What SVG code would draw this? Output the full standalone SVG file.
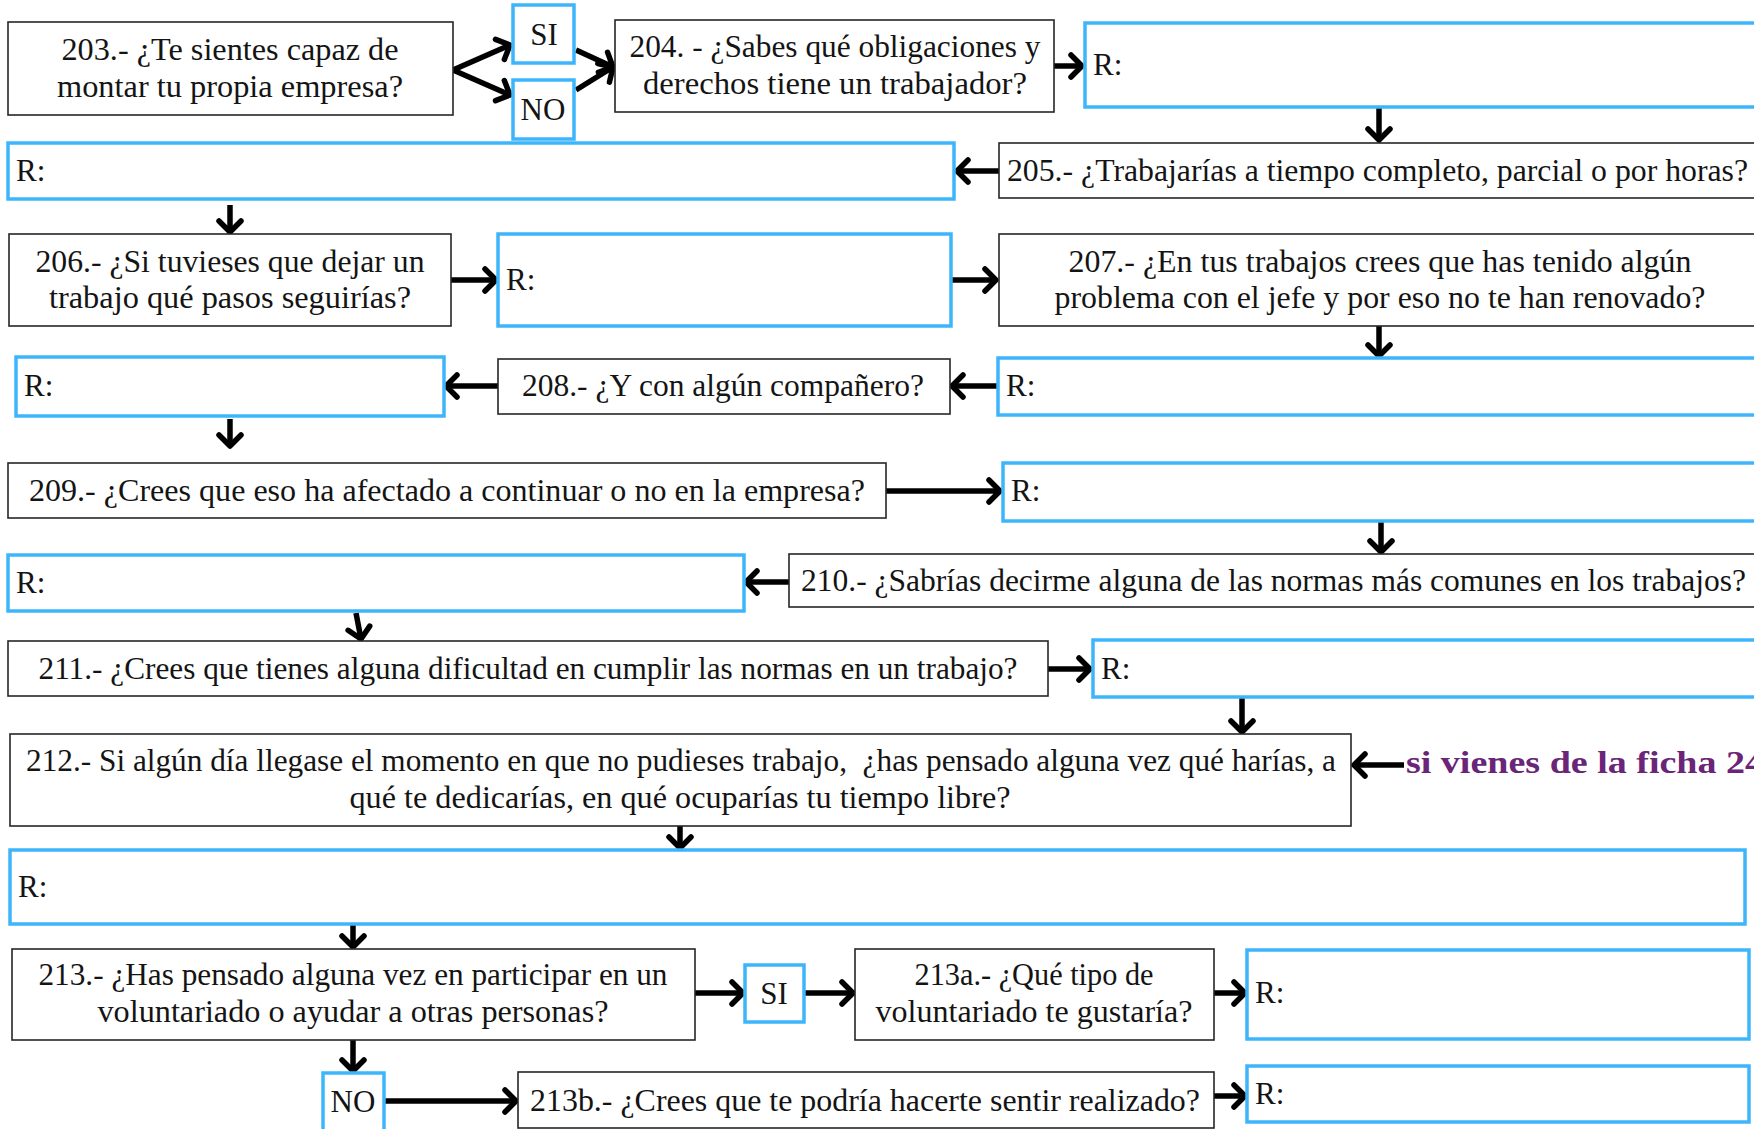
<svg xmlns="http://www.w3.org/2000/svg" width="1754" height="1129" viewBox="0 0 1754 1129">
<style>
.q{fill:#fff;stroke:#262626;stroke-width:1.6}
.a{fill:#fff;stroke:#3db5fb;stroke-width:3.5}
.t{font-family:"Liberation Serif","Times New Roman",serif;font-size:31px;fill:#141414}
.c{text-anchor:middle}
.p{font-family:"Liberation Serif","Times New Roman",serif;font-size:32px;font-weight:bold;fill:#6a2478}
.ar{fill:none;stroke:#000;stroke-width:5.5;marker-end:url(#h)}
</style>
<defs>
<marker id="h" markerUnits="userSpaceOnUse" markerWidth="26" markerHeight="30" viewBox="0 0 26 30" refX="20" refY="15" orient="auto">
<path d="M9,4 L20,15 L9,26" fill="none" stroke="#000" stroke-width="5.5" stroke-linecap="round" stroke-linejoin="round"/>
</marker>
</defs>
<rect width="1754" height="1129" fill="#fff"/>

<g id="connectors">
<path class="ar" d="M453,70 L510,45"/>
<path class="ar" d="M453,70 L510,95"/>
<path class="ar" d="M576,50 L613,67"/>
<path class="ar" d="M576,90 L613,67"/>
<path class="ar" d="M1054,66 L1082,66"/>
<path class="ar" d="M1379,107 L1379,140"/>
<path class="ar" d="M999,171 L957,171"/>
<path class="ar" d="M230,205 L230,232"/>
<path class="ar" d="M451,280 L496,280"/>
<path class="ar" d="M951,280 L996,280"/>
<path class="ar" d="M1379,326 L1379,356"/>
<path class="ar" d="M998,386 L952,386"/>
<path class="ar" d="M498,386 L446,386"/>
<path class="ar" d="M230,419 L230,446"/>
<path class="ar" d="M886,491 L1000,491"/>
<path class="ar" d="M1381,521 L1381,552"/>
<path class="ar" d="M789,582 L746,582"/>
<path class="ar" d="M356,613 L361,639"/>
<path class="ar" d="M1048,669 L1090,669"/>
<path class="ar" d="M1242,697 L1242,732"/>
<path class="ar" d="M1404,765 L1354,765"/>
<path class="ar" d="M680,826 L680,848"/>
<path class="ar" d="M353,924 L353,947"/>
<path class="ar" d="M695,993 L743,993"/>
<path class="ar" d="M804,993 L853,993"/>
<path class="ar" d="M1214,993 L1245,993"/>
<path class="ar" d="M353,1040 L353,1071"/>
<path class="ar" d="M384,1101 L516,1101"/>
<path class="ar" d="M1214,1096 L1245,1096"/>
</g>

<g id="q203"><rect class="q" x="8" y="22" width="445" height="93"/>
<text class="t c" x="230" y="60" textLength="337" lengthAdjust="spacingAndGlyphs">203.- ¿Te sientes capaz de</text>
<text class="t c" x="230" y="97" textLength="346" lengthAdjust="spacingAndGlyphs">montar tu propia empresa?</text></g>
<g id="si203"><rect class="a" x="513" y="5" width="61" height="58"/><text class="t c" x="544" y="45">SI</text></g>
<g id="no203"><rect class="a" x="513" y="80" width="61" height="59"/><text class="t c" x="543" y="120">NO</text></g>
<g id="q204"><rect class="q" x="615" y="20" width="439" height="92"/>
<text class="t c" x="835" y="57" textLength="411" lengthAdjust="spacingAndGlyphs">204. - ¿Sabes qué obligaciones y</text>
<text class="t c" x="835" y="94" textLength="384" lengthAdjust="spacingAndGlyphs">derechos tiene un trabajador?</text></g>
<g id="r204"><rect class="a" x="1085" y="23" width="690" height="84"/><text class="t" x="1093" y="75">R:</text></g>

<g id="r205"><rect class="a" x="8" y="143" width="946" height="56"/><text class="t" x="16" y="181">R:</text></g>
<g id="q205"><rect class="q" x="999" y="143" width="780" height="55"/>
<text class="t" x="1007" y="181" textLength="741" lengthAdjust="spacingAndGlyphs">205.- ¿Trabajarías a tiempo completo, parcial o por horas?</text></g>

<g id="q206"><rect class="q" x="9" y="234" width="442" height="92"/>
<text class="t c" x="230" y="272" textLength="389" lengthAdjust="spacingAndGlyphs">206.- ¿Si tuvieses que dejar un</text>
<text class="t c" x="230" y="308" textLength="362" lengthAdjust="spacingAndGlyphs">trabajo qué pasos seguirías?</text></g>
<g id="r206"><rect class="a" x="498" y="234" width="453" height="92"/><text class="t" x="506" y="290">R:</text></g>
<g id="q207"><rect class="q" x="999" y="234" width="780" height="92"/>
<text class="t c" x="1380" y="272" textLength="623" lengthAdjust="spacingAndGlyphs">207.- ¿En tus trabajos crees que has tenido algún</text>
<text class="t c" x="1380" y="308" textLength="651" lengthAdjust="spacingAndGlyphs">problema con el jefe y por eso no te han renovado?</text></g>

<g id="r208"><rect class="a" x="16" y="357" width="428" height="59"/><text class="t" x="24" y="396">R:</text></g>
<g id="q208"><rect class="q" x="498" y="359" width="452" height="55"/>
<text class="t c" x="723" y="396" textLength="402" lengthAdjust="spacingAndGlyphs">208.- ¿Y con algún compañero?</text></g>
<g id="r207"><rect class="a" x="998" y="358" width="780" height="57"/><text class="t" x="1006" y="396">R:</text></g>

<g id="q209"><rect class="q" x="8" y="463" width="878" height="55"/>
<text class="t c" x="447" y="501" textLength="836" lengthAdjust="spacingAndGlyphs">209.- ¿Crees que eso ha afectado a continuar o no en la empresa?</text></g>
<g id="r209"><rect class="a" x="1003" y="463" width="780" height="58"/><text class="t" x="1011" y="501">R:</text></g>

<g id="r210"><rect class="a" x="8" y="555" width="736" height="56"/><text class="t" x="16" y="593">R:</text></g>
<g id="q210"><rect class="q" x="789" y="554" width="990" height="53"/>
<text class="t" x="801" y="591" textLength="945" lengthAdjust="spacingAndGlyphs">210.- ¿Sabrías decirme alguna de las normas más comunes en los trabajos?</text></g>

<g id="q211"><rect class="q" x="8" y="641" width="1040" height="55"/>
<text class="t c" x="528" y="679" textLength="979" lengthAdjust="spacingAndGlyphs">211.- ¿Crees que tienes alguna dificultad en cumplir las normas en un trabajo?</text></g>
<g id="r211"><rect class="a" x="1093" y="640" width="690" height="57"/><text class="t" x="1101" y="679">R:</text></g>

<g id="q212"><rect class="q" x="10" y="734" width="1341" height="92"/>
<text class="t c" x="681" y="771" textLength="1310" lengthAdjust="spacingAndGlyphs" xml:space="preserve">212.- Si algún día llegase el momento en que no pudieses trabajo,  ¿has pensado alguna vez qué harías, a</text>
<text class="t c" x="680" y="808" textLength="661" lengthAdjust="spacingAndGlyphs">qué te dedicarías, en qué ocuparías tu tiempo libre?</text></g>
<g id="note"><text class="p" x="1406" y="773" textLength="358" lengthAdjust="spacingAndGlyphs">si vienes de la ficha 24</text></g>

<g id="r212"><rect class="a" x="10" y="850" width="1735" height="74"/><text class="t" x="18" y="897">R:</text></g>

<g id="q213"><rect class="q" x="12" y="949" width="683" height="91"/>
<text class="t c" x="353" y="985" textLength="629" lengthAdjust="spacingAndGlyphs">213.- ¿Has pensado alguna vez en participar en un</text>
<text class="t c" x="353" y="1022" textLength="511" lengthAdjust="spacingAndGlyphs">voluntariado o ayudar a otras personas?</text></g>
<g id="si213"><rect class="a" x="745" y="965" width="59" height="57"/><text class="t c" x="774" y="1004">SI</text></g>
<g id="q213a"><rect class="q" x="855" y="949" width="359" height="91"/>
<text class="t c" x="1034" y="985" textLength="239" lengthAdjust="spacingAndGlyphs">213a.- ¿Qué tipo de</text>
<text class="t c" x="1034" y="1022" textLength="317" lengthAdjust="spacingAndGlyphs">voluntariado te gustaría?</text></g>
<g id="r213a"><rect class="a" x="1247" y="950" width="502" height="89"/><text class="t" x="1255" y="1003">R:</text></g>

<g id="no213"><rect class="a" x="323" y="1073" width="61" height="62"/><text class="t c" x="353" y="1112">NO</text></g>
<g id="q213b"><rect class="q" x="518" y="1072" width="696" height="56"/>
<text class="t c" x="865" y="1111" textLength="670" lengthAdjust="spacingAndGlyphs">213b.- ¿Crees que te podría hacerte sentir realizado?</text></g>
<g id="r213b"><rect class="a" x="1247" y="1066" width="502" height="56"/><text class="t" x="1255" y="1104">R:</text></g>
</svg>
